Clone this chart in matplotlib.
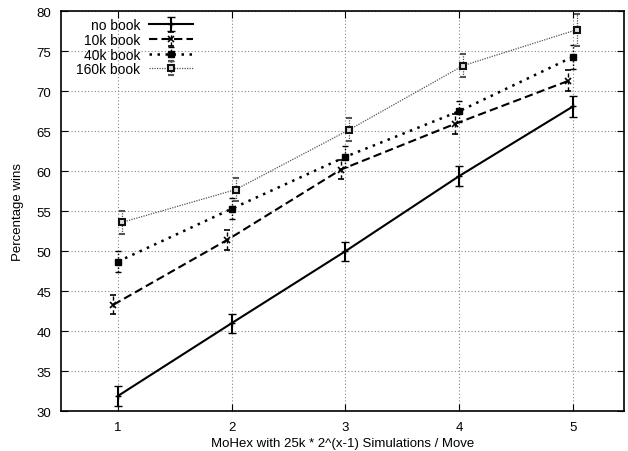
import numpy as np
import matplotlib
matplotlib.use('Agg')
import matplotlib.pyplot as plt

plt.rcParams['font.family'] = ['Liberation Sans', 'DejaVu Sans']

sims = [1, 2, 3, 4, 5]

no_book = [31.9, 41.0, 50.0, 59.4, 68.1]
no_book_err = [1.2, 1.2, 1.2, 1.2, 1.3]

book_10k = [43.3, 51.4, 60.2, 65.9, 71.3]
book_10k_err = [1.2, 1.2, 1.2, 1.2, 1.3]

book_40k = [48.7, 55.3, 61.8, 67.5, 74.3]
book_40k_err = [1.3, 1.3, 1.3, 1.3, 1.5]

book_160k = [53.6, 57.7, 65.2, 73.2, 77.7]
book_160k_err = [1.4, 1.4, 1.4, 1.4, 2.0]

fig = plt.figure(figsize=(6.28, 4.52), dpi=100)
ax = fig.add_axes([0.097, 0.088, 0.897, 0.885])

x = np.array(sims, dtype=float)

ax.errorbar(x, no_book, yerr=no_book_err, color='black', lw=1.5, ls='-',
            marker='+', ms=5, mew=1, capsize=3, elinewidth=1.5, capthick=1.5,
            label='no book')
e10 = ax.errorbar(x - 0.04, book_10k, yerr=book_10k_err, color='black', lw=1.5,
                  ls=(0, (4, 2)), marker='x', ms=5, mew=1.2, capsize=2,
                  elinewidth=1, capthick=1, label='10k book')
e40 = ax.errorbar(x, book_40k, yerr=book_40k_err, color='black', lw=1.8,
                  ls=(0, (1, 2.2)), marker='s', ms=4, mew=1, capsize=2,
                  elinewidth=1, capthick=1, label='40k book')
e160 = ax.errorbar(x + 0.035, book_160k, yerr=book_160k_err, color='#555555',
                   lw=0.9, ls=(0, (1, 1)), marker='s', ms=5, mfc='#dddddd',
                   mec='#111111', mew=1.5, capsize=2, elinewidth=0.9,
                   capthick=0.9, label='160k book')

# gnuplot draws the error bars with the series' dash pattern
e10[2][0].set_linestyle((0, (3, 2)))
e40[2][0].set_linestyle((0, (1, 1.5)))
e160[2][0].set_linestyle((0, (1, 1)))

ax.set_xlim(0.5, 5.45)
ax.set_ylim(30, 80)
ax.set_xticks(sims)
ax.set_yticks(np.arange(30, 81, 5))
ax.tick_params(direction='in', top=True, right=True, labelsize=9.5,
               length=5, pad=7)
ax.grid(True, color='#888888', ls=(0, (1, 2)), lw=0.8)
for s in ax.spines.values():
    s.set_linewidth(1.2)

ax.set_xlabel('MoHex with 25k * 2^(x-1) Simulations / Move', fontsize=9.5,
              labelpad=3)
ax.set_ylabel('Percentage wins', fontsize=9.5, labelpad=9)

leg = ax.legend(loc='upper left', markerfirst=False, frameon=False,
                fontsize=10, handlelength=3.2, borderaxespad=0.1,
                labelspacing=0.05, handletextpad=0.6,
                bbox_to_anchor=(0.015, 1.0))
for t in leg.get_texts():
    t.set_ha('right')
leg._legend_box.align = 'right'

fig.savefig('out.png', dpi=100)
